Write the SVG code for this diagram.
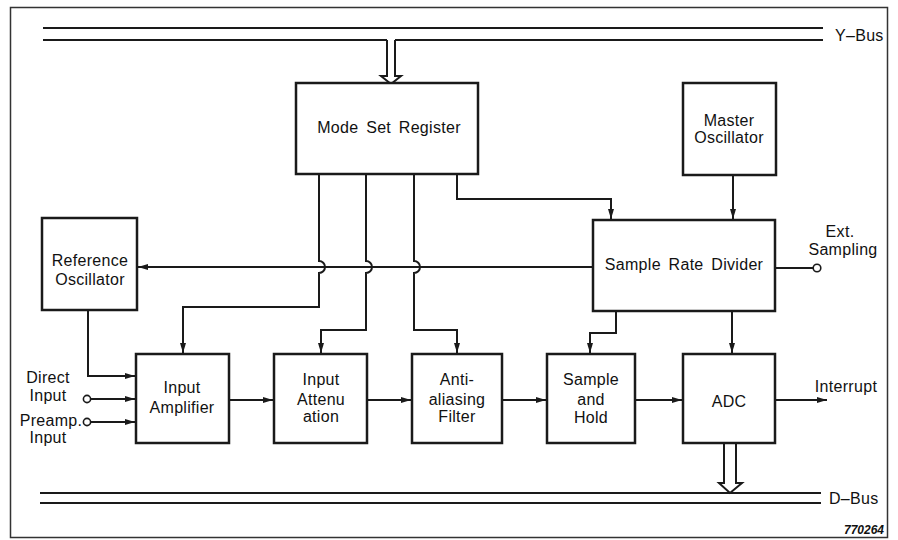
<svg xmlns="http://www.w3.org/2000/svg" width="898" height="540" viewBox="0 0 898 540">
<style>
.box{fill:#fff;stroke:#1a1a1a;stroke-width:2.5}
.ln{fill:none;stroke:#1a1a1a;stroke-width:2}
.bus{fill:none;stroke:#1a1a1a;stroke-width:2}
.t{font-family:"Liberation Sans",Arial,sans-serif;font-size:16px;fill:#111;text-anchor:middle;letter-spacing:0.3px}
.tl{font-family:"Liberation Sans",Arial,sans-serif;font-size:16px;fill:#111;letter-spacing:0.3px}
.term{fill:#fff;stroke:#1a1a1a;stroke-width:1.6}
</style>
<defs>
<marker id="ah" markerUnits="userSpaceOnUse" markerWidth="11" markerHeight="7" refX="10" refY="3" orient="auto">
<path d="M0,0 L10,3 L0,6 z" fill="#1a1a1a"/>
</marker>
</defs>
<rect x="0" y="0" width="898" height="540" fill="#fff"/>
<rect x="10.5" y="7.5" width="877" height="530" fill="none" stroke="#333" stroke-width="1.5"/>

<g id="buses">
<path class="bus" d="M43,28 H823"/>
<path class="bus" d="M43,40 H387 M395,40 H823"/>
<path class="bus" d="M387,40 V76 H381 L391,84 L401,76 H395 V40" fill="#fff"/>
<text class="tl" x="835" y="41">Y–Bus</text>
<path class="bus" d="M40,493 H821 M40,503 H821"/>
<path class="bus" d="M724,444 V483 H719 L730,493 L742,483 H736 V444" fill="#fff"/>
<text class="tl" x="829" y="504">D–Bus</text>
</g>

<g id="connectors">
<path class="ln" d="M319,174 V261 a6,6 0 0 1 0,12 V307 H183 V353" marker-end="url(#ah)"/>
<path class="ln" d="M366,174 V261 a6,6 0 0 1 0,12 V330 H321 V353" marker-end="url(#ah)"/>
<path class="ln" d="M414,174 V261 a6,6 0 0 1 0,12 V330 H457 V353" marker-end="url(#ah)"/>
<path class="ln" d="M457,174 V199 H611 V219" marker-end="url(#ah)"/>
<path class="ln" d="M733,175 V219" marker-end="url(#ah)"/>
<path class="ln" d="M593,267 H138" marker-end="url(#ah)"/>
<path class="ln" d="M775,268 H813"/>
<path class="ln" d="M616,311 V333 H590 V353" marker-end="url(#ah)"/>
<path class="ln" d="M732,311 V353" marker-end="url(#ah)"/>
<path class="ln" d="M88,310 V376 H135" marker-end="url(#ah)"/>
<path class="ln" d="M91,399 H135" marker-end="url(#ah)"/>
<path class="ln" d="M91,422 H135" marker-end="url(#ah)"/>
<path class="ln" d="M229,400 H273" marker-end="url(#ah)"/>
<path class="ln" d="M367,400 H411" marker-end="url(#ah)"/>
<path class="ln" d="M502,400 H546" marker-end="url(#ah)"/>
<path class="ln" d="M635,400 H682" marker-end="url(#ah)"/>
<path class="ln" d="M775,400 H827" marker-end="url(#ah)"/>
<circle class="term" cx="817" cy="268" r="3.8"/>
<circle class="term" cx="87" cy="399" r="3.6"/>
<circle class="term" cx="87" cy="422" r="3.6"/>
</g>

<g id="mode-set-register">
<rect class="box" x="296" y="83" width="182" height="91"/>
<text class="t" x="389" y="133" word-spacing="3">Mode Set Register</text>
</g>
<g id="master-oscillator">
<rect class="box" x="683" y="83" width="93" height="92"/>
<text class="t" x="729" y="126">Master</text>
<text class="t" x="729" y="143">Oscillator</text>
</g>
<g id="reference-oscillator">
<rect class="box" x="42" y="218" width="95" height="92"/>
<text class="t" x="90" y="266">Reference</text>
<text class="t" x="90" y="285">Oscillator</text>
</g>
<g id="sample-rate-divider">
<rect class="box" x="593" y="220" width="182" height="91"/>
<text class="t" x="684" y="270" word-spacing="3">Sample Rate Divider</text>
</g>
<g id="ext-sampling">
<text class="t" x="840" y="237">Ext.</text>
<text class="t" x="843" y="255">Sampling</text>
</g>
<g id="input-amplifier">
<rect class="box" x="136" y="354" width="93" height="89"/>
<text class="t" x="182" y="393">Input</text>
<text class="t" x="182" y="413">Amplifier</text>
</g>
<g id="input-attenuation">
<rect class="box" x="274" y="354" width="93" height="89"/>
<text class="t" x="321" y="385">Input</text>
<text class="t" x="321" y="405">Attenu</text>
<text class="t" x="321" y="422">ation</text>
</g>
<g id="anti-aliasing-filter">
<rect class="box" x="412" y="354" width="90" height="89"/>
<text class="t" x="457" y="385">Anti-</text>
<text class="t" x="457" y="405">aliasing</text>
<text class="t" x="457" y="422">Filter</text>
</g>
<g id="sample-and-hold">
<rect class="box" x="547" y="354" width="88" height="89"/>
<text class="t" x="591" y="385">Sample</text>
<text class="t" x="591" y="405">and</text>
<text class="t" x="591" y="423">Hold</text>
</g>
<g id="adc">
<rect class="box" x="683" y="354" width="92" height="89"/>
<text class="t" x="729" y="407">ADC</text>
</g>
<g id="labels">
<text class="t" x="846" y="392">Interrupt</text>
<text class="t" x="48" y="383">Direct</text>
<text class="t" x="48" y="401">Input</text>
<text class="t" x="51" y="426">Preamp.</text>
<text class="t" x="48" y="443">Input</text>
<text x="884" y="534" text-anchor="end" font-family="'Liberation Sans',Arial,sans-serif" font-size="12" font-weight="bold" font-style="italic" fill="#111">770264</text>
</g>
</svg>
